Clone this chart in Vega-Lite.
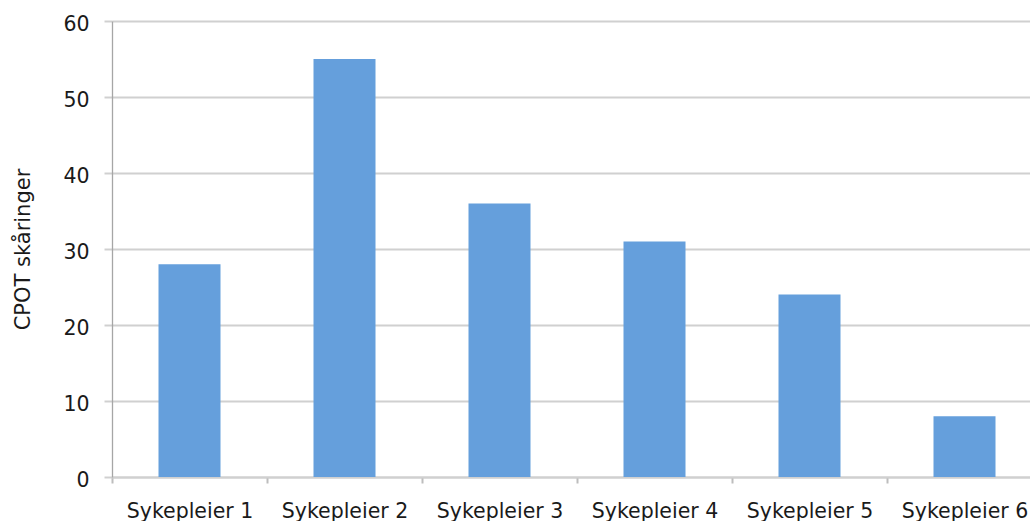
{
  "$schema": "https://vega.github.io/schema/vega-lite/v6.json",
  "width": 930,
  "height": 456,
  "autosize": {"type": "none"},
  "padding": {"left": 112, "top": 21, "right": 0, "bottom": 44},
  "background": "white",
  "config": {
    "view": {"stroke": null},
    "font": "DejaVu Sans"
  },
  "data": {
    "values": [
      {"sykepleier": "Sykepleier 1", "score": 28},
      {"sykepleier": "Sykepleier 2", "score": 55},
      {"sykepleier": "Sykepleier 3", "score": 36},
      {"sykepleier": "Sykepleier 4", "score": 31},
      {"sykepleier": "Sykepleier 5", "score": 24},
      {"sykepleier": "Sykepleier 6", "score": 8}
    ]
  },
  "mark": {"type": "bar", "color": "#659fdc", "width": {"band": 0.4}},
  "encoding": {
    "x": {
      "field": "sykepleier",
      "type": "nominal",
      "sort": null,
      "scale": {"paddingInner": 0, "paddingOuter": 0},
      "axis": {
        "title": null,
        "labelAngle": 0,
        "labelFont": "DejaVu Sans",
        "labelFontSize": 20.5,
        "labelColor": "#1a1a1a",
        "labelPadding": 18,
        "tickBand": "extent",
        "tickSize": 6,
        "tickColor": "#bdbdbd",
        "tickWidth": 2,
        "domainColor": "#d0d0d0",
        "domainWidth": 2,
        "grid": false
      }
    },
    "y": {
      "field": "score",
      "type": "quantitative",
      "scale": {"domain": [0, 60], "nice": false},
      "axis": {
        "title": "CPOT skåringer",
        "titleFont": "DejaVu Sans",
        "titleFontSize": 21,
        "titleFontWeight": "normal",
        "titleColor": "#1a1a1a",
        "titlePadding": 29,
        "values": [0, 10, 20, 30, 40, 50, 60],
        "labelFont": "DejaVu Sans",
        "labelFontSize": 20.5,
        "labelColor": "#1a1a1a",
        "labelPadding": 15,
        "labelOffset": 3,
        "tickSize": 8,
        "tickColor": "#d0d0d0",
        "tickWidth": 2,
        "grid": true,
        "gridColor": "#d0d0d0",
        "gridWidth": 2,
        "domainColor": "#a6a6a6",
        "domainWidth": 1.3
      }
    }
  }
}
